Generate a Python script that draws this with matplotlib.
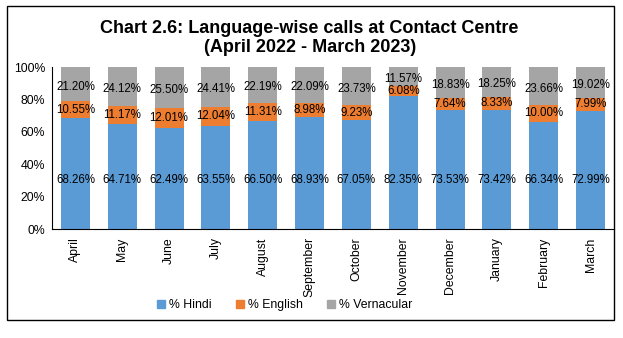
import matplotlib.pyplot as plt
from matplotlib.patches import Rectangle, Patch
import numpy as np

plt.rcParams['font.family'] = ['Liberation Sans', 'DejaVu Sans']

months = ['April', 'May', 'June', 'July', 'August', 'September', 'October',
          'November', 'December', 'January', 'February', 'March']
hindi = [68.26, 64.71, 62.49, 63.55, 66.50, 68.93, 67.05, 82.35, 73.53, 73.42, 66.34, 72.99]
english = [10.55, 11.17, 12.01, 12.04, 11.31, 8.98, 9.23, 6.08, 7.64, 8.33, 10.00, 7.99]
vernacular = [21.20, 24.12, 25.50, 24.41, 22.19, 22.09, 23.73, 11.57, 18.83, 18.25, 23.66, 19.02]

c_hindi = '#5B9BD5'
c_english = '#ED7D31'
c_vern = '#A5A5A5'

fig = plt.figure(figsize=(6.23, 3.38), dpi=100)
ax = fig.add_axes([52/623, 109/338, 562/623, 162/338])

x = np.arange(len(months))
h = np.array(hindi)
e = np.array(english)
v = np.array(vernacular)
w = 0.62
ax.bar(x, h, w, color=c_hindi, label='% Hindi')
ax.bar(x, e, w, bottom=h, color=c_english, label='% English')
ax.bar(x, v, w, bottom=h + e, color=c_vern, label='% Vernacular')

# data labels
for i in range(len(x)):
    ax.text(x[i], 30, f'{h[i]:.2f}%', ha='center', va='center', fontsize=8.3)
    ax.text(x[i], h[i] + e[i] / 2, f'{e[i]:.2f}%', ha='center', va='center', fontsize=8.3)
    ax.text(x[i], h[i] + e[i] + v[i] / 2 - 1.5, f'{v[i]:.2f}%', ha='center', va='center', fontsize=8.3)

ax.set_xlim(-0.5, 11.5)
ax.set_ylim(0, 100)
ax.set_yticks(range(0, 101, 20))
ax.set_yticklabels([f'{t}%' for t in range(0, 101, 20)], fontsize=8.8)
ax.set_xticks(x)
ax.set_xticklabels(months, rotation=90, fontsize=8.8)
ax.tick_params(axis='both', length=0, pad=6)
ax.tick_params(axis='y', pad=5)
for s in ['top', 'right']:
    ax.spines[s].set_visible(False)

fig.text(0.497, 1 - 38/338, 'Chart 2.6: Language-wise calls at Contact Centre\n(April 2022 - March 2023)',
         ha='center', va='center', fontsize=13, fontweight='bold', linespacing=1.2)

handles = [Patch(color=c_hindi), Patch(color=c_english), Patch(color=c_vern)]
fig.legend(handles, ['% Hindi', '% English', '% Vernacular'], loc='center',
           bbox_to_anchor=(0.457, 1 - 305/338), ncol=3, frameon=False, fontsize=8.8,
           handlelength=0.65, handleheight=0.65, handletextpad=0.3, columnspacing=2.0)

fig.patches.append(Rectangle((7/623, 18/338), 607/623, 314/338, transform=fig.transFigure,
                             fill=False, edgecolor='black', linewidth=1))

fig.savefig('out.png', dpi=100)
